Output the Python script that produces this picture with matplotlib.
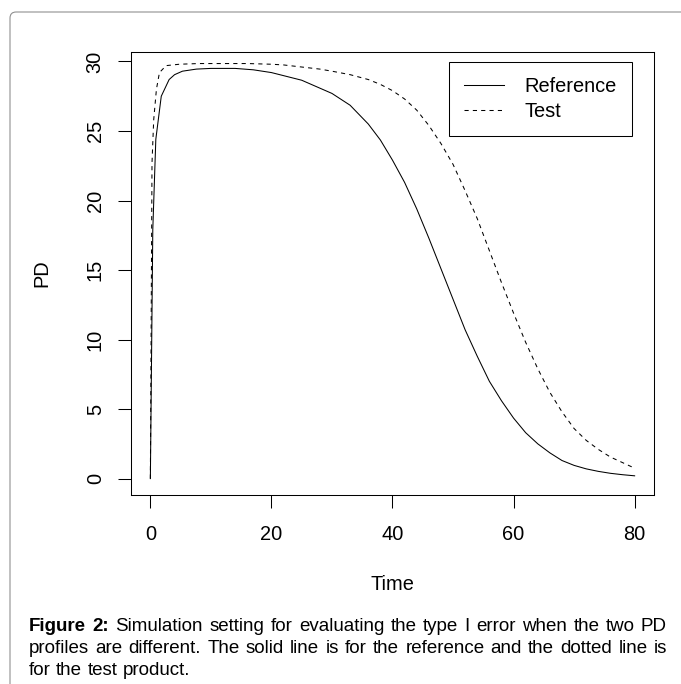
import numpy as np
import matplotlib
matplotlib.use('Agg')
import matplotlib.pyplot as plt
from matplotlib.patches import FancyBboxPatch

plt.rcParams['font.family'] = ['Liberation Sans', 'DejaVu Sans']

# ---------- data ----------
t_ref = [0, 0.4, 0.9, 1.8, 3.1, 4, 5.3, 7.6, 10, 14, 17, 20, 25, 30, 33, 36, 38, 40,
         42, 44, 46, 48, 50, 52, 54, 56, 58, 60, 62, 64, 66, 68, 70, 72, 74, 76, 78, 80]
pd_ref = [0, 17.9, 24.4, 27.5, 28.7, 29.05, 29.3, 29.45, 29.5, 29.5, 29.4, 29.2, 28.65,
          27.7, 26.85, 25.5, 24.35, 22.9, 21.3, 19.4, 17.3, 15.1, 12.9, 10.7, 8.8, 7.0,
          5.6, 4.35, 3.3, 2.5, 1.85, 1.3, 0.95, 0.7, 0.52, 0.38, 0.28, 0.2]

t_test = [0, 0.27, 0.55, 1.0, 1.5, 2.6, 4.8, 8, 12, 16, 20, 22, 25, 28, 30, 33, 36, 38,
          40, 42, 44, 46, 48, 50, 52, 54, 56, 58, 60, 62, 64, 66, 68, 70, 72, 74, 76, 78, 80]
pd_test = [0, 22.7, 25.8, 28.0, 29.2, 29.7, 29.8, 29.85, 29.85, 29.85, 29.8, 29.75, 29.6,
           29.45, 29.3, 29.05, 28.7, 28.35, 27.9, 27.3, 26.5, 25.4, 24.1, 22.6, 20.7, 18.7,
           16.4, 14.1, 11.9, 9.8, 7.9, 6.2, 4.8, 3.6, 2.75, 2.1, 1.55, 1.15, 0.75]

xticks = [0, 20, 40, 60, 80]
yticks = [0, 5, 10, 15, 20, 25, 30]
labels = ['Reference', 'Test']
caption = [
    [('Figure', True), ('2:', True)] + [(w, False) for w in
        'Simulation setting for evaluating the type I error when the two PD'.split()],
    [(w, False) for w in
        'profiles are different. The solid line is for the reference and the dotted line is'.split()],
    [(w, False) for w in 'for the test product.'.split()],
]

W, H = 681, 684
fig = plt.figure(figsize=(W / 100, H / 100), dpi=100)

# outer frame (only top and left visible)
frame = FancyBboxPatch((10 / W, -0.2), 1.3, 1.2 - 12 / H,
                       boxstyle='round,pad=0,rounding_size=0.009',
                       transform=fig.transFigure, fill=False,
                       edgecolor='#909090', linewidth=0.8)
fig.patches.append(frame)

ax = fig.add_axes([131 / W, 1 - 495 / H, (654 - 131) / W, (495 - 52) / H])
ax.plot(t_ref, pd_ref, color='black', lw=0.75, label=labels[0])
ax.plot(t_test, pd_test, color='black', lw=0.75, dashes=(4, 4), label=labels[1])

ax.set_xlim(-3.2, 83.2)
ax.set_ylim(-1.18, 30.68)
ax.set_xticks(xticks)
ax.set_yticks(yticks)
ax.set_xticklabels([str(v) for v in xticks])
ax.set_yticklabels([str(v) for v in yticks], rotation=90, va='center')
ax.tick_params(axis='both', length=9.4, width=0.75, color='black', labelsize=14.4)
ax.tick_params(axis='x', pad=12.5)
ax.tick_params(axis='y', pad=9.5)
for s in ax.spines.values():
    s.set_linewidth(0.75)
    s.set_color('black')

leg = ax.legend(loc='upper right', bbox_to_anchor=(632 / W, 1 - 62 / H),
                bbox_transform=fig.transFigure, borderaxespad=0, fontsize=14.4,
                fancybox=False, edgecolor='black', framealpha=1,
                handlelength=2.0, handletextpad=1.05, borderpad=0.75, labelspacing=0.32)
leg.get_frame().set_linewidth(0.75)

fig.text(42 / W, 1 - 273.5 / H, 'PD', rotation=90, ha='center', va='center', fontsize=14.4)
fig.text(392.5 / W, 1 - 590 / H, 'Time', ha='center', va='baseline', fontsize=14.4)

# justified caption
fig.canvas.draw()
r = fig.canvas.get_renderer()
x0, x1 = 29, 667
baselines = [631, 653, 675]


def line_width(line, size):
    s = ' '.join(w for w, b in line[2:]) if line[0][1] else ' '.join(w for w, b in line)
    t1 = fig.text(0, 0, s, fontsize=size)
    wd = t1.get_window_extent(r).width
    t1.remove()
    if line[0][1]:
        t2 = fig.text(0, 0, 'Figure 2: ', fontsize=size, fontweight='bold')
        wd += t2.get_window_extent(r).width
        t2.remove()
    return wd


base = 12.0
nat = max(line_width(caption[0], base), line_width(caption[1], base))
cap_size = base * (x1 - x0) / nat * 0.985

sp1 = fig.text(0, 0, 'a a', fontsize=cap_size)
sp2 = fig.text(0, 0, 'aa', fontsize=cap_size)
space = sp1.get_window_extent(r).width - sp2.get_window_extent(r).width
sp1.remove()
sp2.remove()

for i, line in enumerate(caption):
    txts = [fig.text(0, 1 - baselines[i] / H, w, fontsize=cap_size, va='baseline',
                     fontweight='bold' if b else 'normal') for w, b in line]
    widths = [t.get_window_extent(r).width for t in txts]
    if i < len(caption) - 1:
        gap = (x1 - x0 - sum(widths)) / (len(txts) - 1)
    else:
        gap = space
    x = x0
    for t, w in zip(txts, widths):
        t.set_x(x / W)
        x += w + gap

fig.savefig('out.png', dpi=100)
